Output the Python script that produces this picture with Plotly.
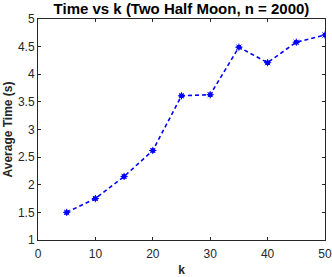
import plotly.graph_objects as go

k_values = [5, 10, 15, 20, 25, 30, 35, 40, 45, 50]
avg_time = [1.50, 1.75, 2.15, 2.62, 3.61, 3.63, 4.49, 4.21, 4.58, 4.71]

x_ticks = [0, 10, 20, 30, 40, 50]
y_ticks = [1, 1.5, 2, 2.5, 3, 3.5, 4, 4.5, 5]
y_tick_labels = ["1", "1.5", "2", "2.5", "3", "3.5", "4", "4.5", "5"]

fig = go.Figure()

fig.add_trace(
    go.Scatter(
        x=k_values,
        y=avg_time,
        mode="lines+markers",
        line=dict(color="#0000ff", width=1.6, dash="4px,3px"),
        marker=dict(symbol="circle", size=5, color="#0000ff"),
        showlegend=False,
    )
)
# asterisk overlay, MATLAB-style '*' marker
fig.add_trace(
    go.Scatter(
        x=k_values,
        y=avg_time,
        mode="markers",
        marker=dict(symbol="asterisk-open", size=6, color="#0000ff",
                    line=dict(color="#0000ff", width=1)),
        showlegend=False,
    )
)

axis_common = dict(
    showgrid=False,
    zeroline=False,
    showline=True,
    linecolor="#262626",
    linewidth=1,
    mirror="ticks",
    ticks="inside",
    ticklen=3,
    tickcolor="#262626",
    tickfont=dict(size=12, color="#262626"),
    automargin=False,
)

fig.update_layout(
    width=332,
    height=277,
    margin=dict(l=38, r=7, t=19, b=37),
    paper_bgcolor="white",
    plot_bgcolor="white",
    font=dict(family="Liberation Sans, Arial, sans-serif", color="#262626"),
    title=dict(
        text="<b>Time vs k (Two Half Moon, n = 2000)</b>",
        x=0.5, xref="paper", xanchor="center",
        y=1 - 8.5 / 277, yanchor="middle",
        font=dict(size=15, color="black"),
        automargin=False,
    ),
    xaxis=dict(
        range=[0, 50],
        tickvals=x_ticks,
        ticklabelstandoff=3,
        title=dict(text="<b>k</b>", font=dict(size=12, color="#262626"), standoff=5),
        **axis_common,
    ),
    yaxis=dict(
        range=[1, 5],
        tickvals=y_ticks,
        ticktext=y_tick_labels,
        title=dict(text="<b>Average Time (s)</b>", font=dict(size=12, color="#262626"), standoff=2),
        **axis_common,
    ),
)

# drop the default page margin so the figure fills the window
fig.write_html(
    "out.html",
    config={"displayModeBar": False},
    post_script="document.body.style.margin='0';",
)
